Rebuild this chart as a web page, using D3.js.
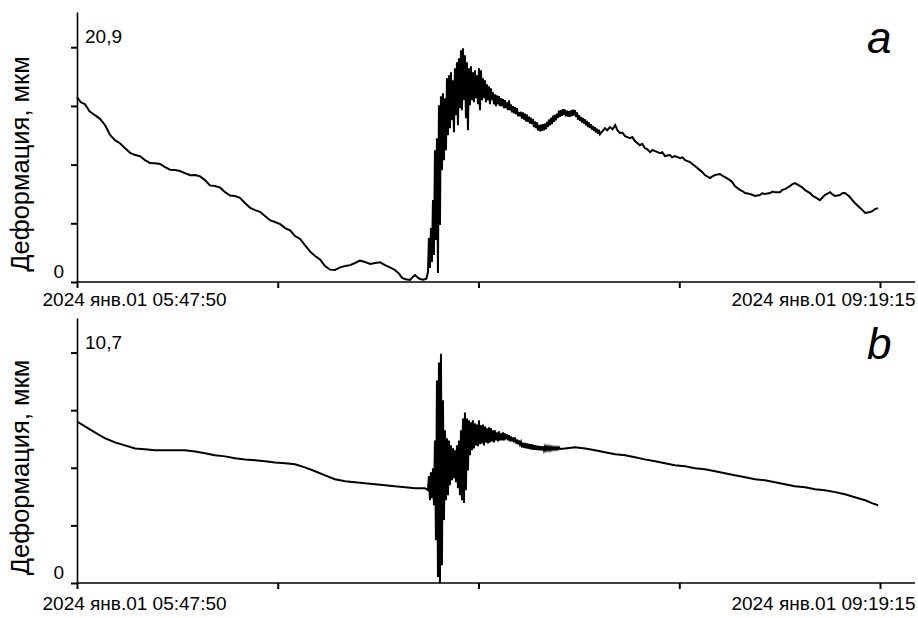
<!DOCTYPE html>
<meta charset="utf-8">
<head>
    <script src="https://d3js.org/d3.v7.min.js"></script>
</head>
<body style="margin:0; background:#fff;">
    <div id="svg_div"></div>
</body>
<style>
    text { font-family: "Liberation Sans", Arial, sans-serif; fill: #000; }
</style>
<script>

    // record start / end
    var startTime = new Date(2024, 0, 1, 5, 47, 50);
    var endTime = new Date(2024, 0, 1, 9, 19, 15);
    var monthsShort = ["янв", "фев", "мар", "апр", "май", "июн", "июл", "авг", "сен", "окт", "ноя", "дек"];
    var yTitle = "Деформация, мкм";

    // panel a : [minutes from start, deformation]
    var maxA = 20.9, labelMaxA = "20,9";
    var smoothA_before = [[0, 16.45], [1.0, 16.0], [2.1, 15.83], [3.3, 15.2], [4.7, 14.85], [6.0, 14.55], [7.4, 13.96],
        [8.7, 13.1], [10.0, 12.63], [11.3, 12.35], [12.6, 11.92], [14.0, 11.5], [15.3, 11.30], [16.6, 11.2],
        [17.9, 10.85], [19.2, 10.6], [20.5, 10.58], [21.9, 10.5], [23.2, 10.23], [24.5, 10.0], [25.8, 9.96],
        [27.1, 9.88], [28.4, 9.69], [29.8, 9.5], [31.1, 9.52], [32.4, 9.4], [33.7, 9.07], [35.0, 8.6], [36.3, 8.54],
        [37.7, 8.4], [39.0, 8.00], [40.3, 7.7], [41.6, 7.65], [42.9, 7.5], [44.2, 7.03], [45.6, 6.6], [46.9, 6.40],
        [48.2, 6.25], [49.5, 5.87], [50.8, 5.5], [52.1, 5.34], [53.5, 5.15], [54.8, 4.80], [56.1, 4.6], [57.4, 4.09],
        [58.7, 3.85], [60.0, 3.29], [61.4, 2.7], [62.7, 2.31], [64.0, 2.0], [65.3, 1.42], [66.6, 1.1], [67.9, 1.07],
        [69.3, 1.3], [70.6, 1.42], [71.9, 1.5], [73.2, 1.69], [74.5, 1.9], [75.8, 1.78], [77.2, 1.6], [78.5, 1.69],
        [79.8, 1.75], [81.1, 1.51], [82.4, 1.3], [83.7, 1.07], [84.6, 0.8], [85.6, 0.36], [86.5, 0.25], [87.7, 0.18],
        [88.4, 0.45], [89.0, 0.62], [89.7, 0.4], [90.3, 0.27], [91.2, 0.2], [92.0, 0.30]];
    // dense samples during and after the event
    var burst_t0 = 92.4, burst_dt = 0.2633;
    var burstA = [0.89, 3.91, 1.24, 4.80, 1.78, 7.29, 2.40, 11.73, 3.73, 12.80,
        0.80, 15.74, 5.07, 16.54, 9.96, 16.80, 10.85, 16.36, 11.73, 18.14,
        13.07, 18.40, 13.69, 18.67, 14.40, 17.96, 13.34, 19.03, 14.85, 19.56,
        13.96, 19.91, 15.47, 20.63, 15.29, 20.80, 16.18, 20.18, 14.58, 19.56,
        13.51, 19.03, 15.74, 19.20, 16.18, 18.67, 16.00, 18.85, 16.36, 18.40,
        15.82, 19.03, 15.29, 18.85, 16.18, 18.14, 16.36, 17.96, 16.00, 17.60,
        16.18, 17.42, 15.82, 17.25, 16.18, 16.89, 15.82, 16.71, 15.65, 16.62,
        15.82, 16.54, 15.65, 16.36, 15.65, 16.27, 15.47, 16.18, 15.47, 16.00,
        15.29, 16.18, 15.29, 15.82, 15.11, 15.65, 15.02, 15.56, 14.94, 15.47,
        14.76, 15.11, 14.76,
        15.15, 14.55, 15.10, 14.45, 14.98, 14.30, 14.90, 14.25, 14.72, 14.10,
        14.62, 14.05, 14.50, 13.78, 14.30, 13.70, 14.20, 13.50, 13.98, 13.42,
        14.00, 13.45, 14.05, 13.50, 14.10, 13.60, 14.25, 13.80, 14.45, 13.95,
        14.60, 14.05, 14.80, 14.25, 14.88, 14.40, 14.98, 14.60, 15.25, 14.70,
        15.30, 14.80, 15.38, 14.85, 15.35, 14.75, 15.25, 14.72, 15.20, 14.70,
        15.28, 14.78, 15.35, 14.85, 15.30, 14.70, 15.10, 14.45, 14.85, 14.35,
        14.70, 14.20, 14.60, 14.10, 14.50, 13.95, 14.35, 13.80, 14.20, 13.70,
        14.05, 13.55, 13.90, 13.45, 13.78, 13.32, 13.65, 13.20, 13.55, 13.15];
    var smoothA_after = [[139.0, 13.69], [139.6, 13.5], [140.3, 13.79], [141.0, 13.6], [141.7, 13.96], [142.3, 13.5],
        [143.0, 13.25], [143.6, 13.3], [144.3, 12.98], [145.6, 12.81], [146.2, 12.9], [146.9, 12.54], [148.2, 12.18],
        [148.8, 12.3], [149.5, 11.92], [150.2, 11.8], [150.9, 11.56], [151.5, 11.75], [152.2, 11.65], [153.5, 11.47],
        [154.1, 11.55], [154.8, 11.21], [156.1, 11.30], [156.7, 11.1], [157.4, 11.21], [158.8, 11.03], [159.4, 11.1],
        [160.1, 10.85], [161.4, 10.67], [162.0, 10.5], [162.7, 10.32], [164.0, 9.96], [164.6, 9.8], [165.3, 9.52],
        [166.7, 9.25], [167.3, 9.4], [168.0, 9.52], [169.3, 9.61], [170.0, 9.45], [170.6, 9.34], [171.9, 9.07],
        [172.5, 8.9], [173.2, 8.54], [174.6, 8.18], [175.2, 8.1], [175.9, 7.92], [177.2, 7.83], [177.9, 7.75],
        [178.5, 7.65], [179.8, 7.74], [180.4, 7.9], [181.1, 7.83], [182.5, 7.92], [183.1, 8.05], [183.8, 8.00],
        [185.1, 8.00], [185.7, 8.2], [186.4, 8.27], [187.7, 8.54], [188.3, 8.7], [189.0, 8.80], [190.4, 8.54],
        [191.0, 8.4], [191.7, 8.18], [193.0, 7.92], [193.6, 7.7], [194.3, 7.56], [195.6, 7.29], [196.2, 7.5],
        [196.9, 7.74], [198.3, 8.00], [198.9, 7.8], [199.6, 7.65], [200.9, 7.74], [201.5, 7.9], [202.2, 7.92],
        [203.5, 7.56], [204.1, 7.3], [204.8, 7.03], [206.2, 6.58], [206.8, 6.4], [207.5, 6.14], [208.8, 6.23],
        [209.4, 6.3], [210.1, 6.49], [210.9, 6.58]];

    // panel b
    var maxB = 10.7, labelMaxB = "10,7";
    var smoothB_before = [[0, 7.50], [2.1, 7.27], [4.7, 6.99], [7.4, 6.72], [10.0, 6.53], [12.6, 6.39], [15.3, 6.25],
        [17.9, 6.21], [20.5, 6.16], [23.2, 6.16], [25.8, 6.16], [28.4, 6.16], [31.1, 6.11], [33.7, 6.02], [36.3, 5.93],
        [39.0, 5.88], [41.6, 5.79], [44.2, 5.74], [46.9, 5.70], [49.5, 5.65], [52.1, 5.60], [54.8, 5.56], [57.4, 5.51],
        [60.0, 5.37], [62.7, 5.19], [65.3, 5.00], [67.9, 4.82], [70.6, 4.72], [73.2, 4.68], [75.8, 4.63], [78.5, 4.59],
        [81.1, 4.54], [83.7, 4.49], [86.4, 4.45], [89.0, 4.40], [91.6, 4.40], [92.1, 4.35]];
    var burstB = [4.31, 4.96, 3.84, 5.14, 3.94, 5.33, 3.61, 6.62, 1.99, 9.40,
        0.28, 10.24, 0.00, 10.65, 0.83, 8.48, 2.92, 7.09, 3.84, 6.72,
        4.08, 6.62, 4.54, 6.39, 4.77, 6.25, 4.86, 6.16, 4.68, 6.39,
        4.40, 6.62, 4.08, 7.09, 3.84, 7.64, 3.71, 7.92, 4.31, 7.64,
        5.23, 7.55, 5.93, 7.46, 6.16, 7.55, 6.25, 7.41, 6.39, 7.36,
        6.35, 7.55, 6.44, 7.32, 6.48, 7.36, 6.39, 7.27, 6.53, 7.18,
        6.48, 7.23, 6.53, 7.18, 6.58, 7.09, 6.53, 7.09, 6.62, 7.00,
        6.58, 7.04, 6.62, 6.95, 6.62, 7.00, 6.62, 6.95, 6.67, 6.90,
        6.62, 6.86, 6.58, 6.81, 6.58, 6.76, 6.53, 6.76, 6.48, 6.67,
        6.44, 6.62, 6.44,
        6.55, 6.30, 6.52, 6.28, 6.50, 6.25, 6.48, 6.24, 6.46, 6.22,
        6.45, 6.20, 6.42, 6.18, 6.40, 6.18, 6.38, 6.17, 6.36, 6.16,
        6.35, 6.16, 6.34, 6.16, 6.33, 6.17, 6.32, 6.18, 6.32, 6.18,
        6.31, 6.19, 6.30, 6.20, 6.30, 6.20, 6.30, 6.21, 6.30, 6.22];
    var smoothB_after = [[128.5, 6.25], [131.1, 6.30], [133.8, 6.25], [136.4, 6.16], [139.0, 6.07], [141.7, 5.98],
        [144.3, 5.93], [146.9, 5.84], [149.5, 5.74], [152.2, 5.65], [154.8, 5.56], [157.4, 5.47], [160.1, 5.42],
        [162.7, 5.33], [165.3, 5.28], [168.0, 5.19], [170.6, 5.10], [173.2, 5.00], [175.9, 4.91], [178.5, 4.82],
        [181.1, 4.77], [183.8, 4.68], [186.4, 4.59], [189.0, 4.49], [191.7, 4.45], [194.3, 4.35], [196.9, 4.31],
        [199.6, 4.22], [202.2, 4.12], [204.8, 3.98], [207.5, 3.84], [209.3, 3.71], [210.9, 3.61]];


    function build_series(before, burst, after) {
        let pts = before.slice();
        burst.forEach((v, i) => pts.push([burst_t0 + i * burst_dt, v]));
        return pts.concat(after).map(d => [new Date(startTime.getTime() + d[0] * 60000), d[1]]);
    }

    function pad(n) { return (n < 10 ? "0" : "") + n; }
    function fmt_time(d) {
        return d.getFullYear() + " " + monthsShort[d.getMonth()] + "." + pad(d.getDate()) + " " +
            pad(d.getHours()) + ":" + pad(d.getMinutes()) + ":" + pad(d.getSeconds());
    }

    var width = 918, height = 618;
    var svg = d3.select("#svg_div").append("svg")
        .attr("width", width)
        .attr("height", height);

    var x = d3.scaleTime().domain([startTime, endTime]).range([77, 880]);
    var xTicks = d3.range(5).map(i => new Date(startTime.getTime() + i * (endTime - startTime) / 4));

    var panels = [
        { top: 12, bottom: 282, max: maxA, label: labelMaxA, letter: "a", data: build_series(smoothA_before, burstA, smoothA_after), labelDy: 24 },
        { top: 318, bottom: 583, max: maxB, label: labelMaxB, letter: "b", data: build_series(smoothB_before, burstB, smoothB_after), labelDy: 27 },
    ];

    panels.forEach(p => {
        let g = svg.append("g");
        let y = d3.scaleLinear().domain([0, p.max * 1.15]).range([p.bottom, p.top]);

        // y axis
        g.append("g")
            .attr("transform", "translate(" + x(startTime) + ",0)")
            .call(d3.axisLeft(y)
                .tickValues(d3.range(5).map(i => p.max * i / 4))
                .tickSize(6).tickSizeOuter(0).tickFormat(""))
            .call(a => a.selectAll("line").attr("stroke", "#000").attr("stroke-width", 2))
            .call(a => a.select(".domain").attr("stroke", "#000").attr("stroke-width", 1.6));

        // x axis
        let xa = g.append("g")
            .attr("transform", "translate(0," + p.bottom + ")")
            .call(d3.axisBottom(x)
                .tickValues(xTicks).tickSize(6).tickSizeOuter(0)
                .tickFormat((d, i) => (i == 0 || i == xTicks.length - 1) ? fmt_time(d) : ""));
        xa.select(".domain").remove();
        xa.selectAll("line").attr("stroke", "#000").attr("stroke-width", 2);
        xa.selectAll("text")
            .attr("y", p.labelDy).attr("dy", 0)
            .style("font-size", "19px")
            .attr("text-anchor", (d, i) => i == 0 ? "start" : "end")
            .attr("x", (d, i) => i == 0 ? -35 : 35);
        g.append("line")
            .attr("x1", x(startTime)).attr("x2", x(endTime) + 35)
            .attr("y1", p.bottom).attr("y2", p.bottom)
            .attr("stroke", "#000").attr("stroke-width", 1.6);

        // value labels
        g.append("text")
            .attr("x", x(startTime) + 8).attr("y", y(p.max) - 4)
            .style("font-size", "19px")
            .text(p.label);
        g.append("text")
            .attr("x", x(startTime) - 13).attr("y", y(0) - 4)
            .attr("text-anchor", "end")
            .style("font-size", "19px")
            .text("0");

        // axis title
        g.append("text")
            .attr("transform", "translate(29," + ((p.top + p.bottom) / 2 + 17) + ") rotate(-90)")
            .attr("text-anchor", "middle")
            .style("font-size", "25.5px")
            .text(yTitle);

        // panel letter
        g.append("text")
            .attr("x", 867).attr("y", p.top + 41)
            .style("font-size", "44px")
            .style("font-style", "italic")
            .text(p.letter);

        // series
        g.append("path")
            .datum(p.data)
            .attr("fill", "none")
            .attr("stroke", "#000")
            .attr("stroke-width", 2)
            .attr("stroke-linejoin", "miter")
            .attr("d", d3.line().x(d => x(d[0])).y(d => y(d[1])));
    });

</script>
